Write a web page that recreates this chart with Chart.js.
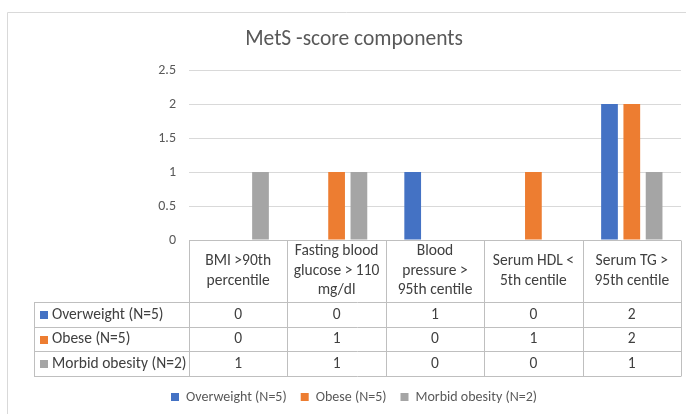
<!DOCTYPE html>
<html>
<head>
<meta charset="utf-8">
<script src="https://cdn.jsdelivr.net/npm/chart.js@4/dist/chart.umd.min.js"></script>
<style>
  html, body { margin: 0; padding: 0; background: #ffffff; }
  #wrap { width: 686px; height: 414px; position: relative; }
</style>
</head>
<body>
<div id="wrap"><canvas id="c" width="686" height="414"></canvas></div>
<script>
// MetS-score components by weight group
const categories = [
  ['BMI >90th', 'percentile'],
  ['Fasting blood', 'glucose > 110', 'mg/dl'],
  ['Blood', 'pressure >', '95th centile'],
  ['Serum HDL <', '5th centile'],
  ['Serum TG >', '95th centile']
];
const seriesNames = ['Overweight (N=5)', 'Obese (N=5)', 'Morbid obesity (N=2)'];
const overweight = [0, 0, 1, 0, 2];
const obese = [0, 1, 0, 1, 2];
const morbidObesity = [1, 1, 0, 0, 1];
const yTicks = [0, 0.5, 1, 1.5, 2, 2.5];

const colors = ['#4472C4', '#ED7D31', '#A5A5A5'];
const FONT = 'Carlito, Lato, "Open Sans", sans-serif';
const TEXT = '#595959';
const TABLE_TEXT = '#404040';
const TABLE_LINE = '#BFBFBF';

const PAD_LEFT = 27;
const HEADER_H = 62;
const ROW_H = 24.7;

// frame around the chart object
const framePlugin = {
  id: 'frame',
  beforeDraw(chart) {
    const ctx = chart.ctx;
    ctx.save();
    ctx.strokeStyle = '#D9D9D9';
    ctx.lineWidth = 1;
    ctx.beginPath();
    ctx.moveTo(7.5, chart.height);
    ctx.lineTo(7.5, 12.5);
    ctx.lineTo(chart.width, 12.5);
    ctx.stroke();
    ctx.restore();
  }
};

// data table underneath the plot, one column per category
const dataTablePlugin = {
  id: 'dataTable',
  afterDraw(chart) {
    const ctx = chart.ctx;
    const xs = chart.scales.x;
    const area = chart.chartArea;
    const n = categories.length;
    const half = (xs.getPixelForValue(1) - xs.getPixelForValue(0)) / 2;
    const left = xs.getPixelForValue(0) - half;
    const right = xs.getPixelForValue(n - 1) + half;
    const top = area.bottom;
    const headBottom = top + HEADER_H;
    const rowsData = chart.data.datasets.map(d => d.data);
    const bottom = headBottom + ROW_H * rowsData.length;
    const labelLeft = 34;

    ctx.save();
    ctx.strokeStyle = TABLE_LINE;
    ctx.lineWidth = 1;
    const hline = (y, x0, x1) => { ctx.beginPath(); ctx.moveTo(x0, Math.round(y) + 0.5); ctx.lineTo(x1, Math.round(y) + 0.5); ctx.stroke(); };
    const vline = (x, y0, y1) => { ctx.beginPath(); ctx.moveTo(Math.round(x) + 0.5, y0); ctx.lineTo(Math.round(x) + 0.5, y1); ctx.stroke(); };

    hline(top, left, right);
    hline(headBottom, labelLeft, right);
    for (let r = 1; r <= rowsData.length; r++) hline(headBottom + ROW_H * r, labelLeft, right);
    vline(labelLeft, Math.round(headBottom) + 0.5, Math.round(bottom) + 0.5);
    for (let i = 0; i <= n; i++) {
      const x = xs.getPixelForValue(0) - half + 2 * half * i;
      vline(x, Math.round(top) + 0.5, Math.round(bottom) + 0.5);
    }

    // header cells
    ctx.fillStyle = TABLE_TEXT;
    ctx.font = '15.5px ' + FONT;
    ctx.textAlign = 'center';
    ctx.textBaseline = 'middle';
    const lh = 19.5;
    categories.forEach((lines, i) => {
      const cx = xs.getPixelForValue(i);
      const cy = (top + headBottom) / 2;
      lines.forEach((t, k) => {
        ctx.fillText(t, cx, cy + (k - (lines.length - 1) / 2) * lh);
      });
    });

    // series rows
    rowsData.forEach((vals, r) => {
      const cy = headBottom + ROW_H * r + ROW_H / 2 + 0.5;
      ctx.fillStyle = colors[r];
      ctx.fillRect(40, Math.round(cy - 4), 8, 8);
      ctx.fillStyle = TABLE_TEXT;
      ctx.textAlign = 'left';
      ctx.fillText(chart.data.datasets[r].label, 52, cy);
      ctx.textAlign = 'center';
      vals.forEach((v, i) => ctx.fillText(String(v), xs.getPixelForValue(i), cy));
    });
    ctx.restore();
  }
};

new Chart(document.getElementById('c'), {
  type: 'bar',
  data: {
    labels: categories,
    datasets: [
      { label: seriesNames[0], data: overweight, backgroundColor: colors[0] },
      { label: seriesNames[1], data: obese, backgroundColor: colors[1] },
      { label: seriesNames[2], data: morbidObesity, backgroundColor: colors[2] }
    ]
  },
  options: {
    responsive: false,
    animation: false,
    devicePixelRatio: 1,
    categoryPercentage: 0.68,
    barPercentage: 0.75,
    layout: { padding: { left: PAD_LEFT, right: 5, top: 0, bottom: 0 } },
    plugins: {
      title: {
        display: true,
        text: 'MetS -score components',
        color: TEXT,
        font: { family: FONT, size: 21.5, weight: 'normal' },
        padding: { top: 27, bottom: 17.2 }
      },
      legend: {
        display: true,
        position: 'bottom',
        labels: {
          color: TEXT,
          font: { family: FONT, size: 14 },
          boxWidth: 8,
          boxHeight: 8,
          padding: 14
        }
      },
      tooltip: { enabled: false }
    },
    scales: {
      x: {
        display: true,
        grid: { display: false, drawTicks: false },
        border: { display: false },
        ticks: { display: false },
        afterFit(s) {
          const lg = s.chart.legend ? s.chart.legend.height : 0;
          s.height = Math.max(0, s.chart.height - 240 - lg);
        }
      },
      y: {
        min: 0,
        max: 2.5,
        afterBuildTicks(s) { s.ticks = yTicks.map(v => ({ value: v })); },
        grid: { color: '#D9D9D9', drawTicks: false },
        border: { display: false },
        ticks: {
          color: TEXT,
          font: { family: FONT, size: 14 },
          padding: 13,
          callback: v => String(v)
        },
        afterFit(s) { s.width = 189 - PAD_LEFT; }
      }
    }
  },
  plugins: [framePlugin, dataTablePlugin]
});
</script>
</body>
</html>
